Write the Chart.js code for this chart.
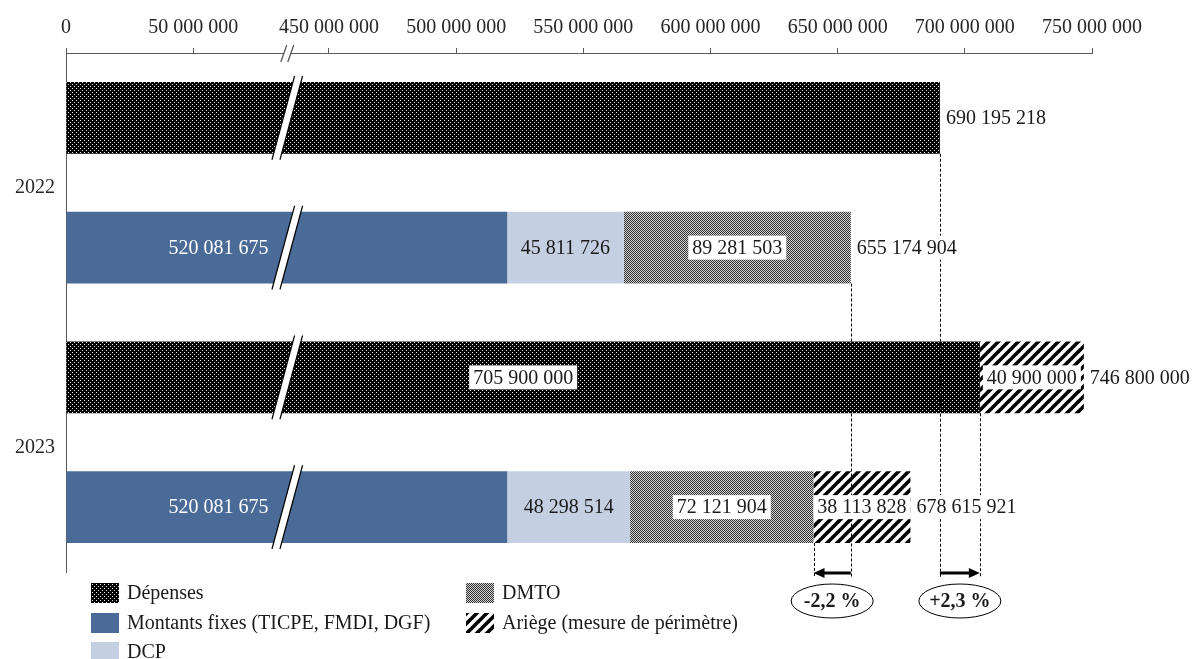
<!DOCTYPE html>
<html lang="fr">
<head>
<meta charset="UTF-8">
<title>Dépenses et recettes 2022-2023</title>
<script src="https://cdn.jsdelivr.net/npm/chart.js"></script>
<style>
  html, body { margin: 0; padding: 0; background: #fff; }
  #zone { width: 1193px; height: 659px; }
</style>
</head>
<body>
<div id="zone"><canvas id="graphique" width="1193" height="659"></canvas></div>
<script>
// Données (en euros)
const annees = ['2022', '2023'];
const depenses = [690195218, 705900000];
const arriegeDepenses = [null, 40900000];
const montantsFixes = [520081675, 520081675];
const dcp = [45811726, 48298514];
const dmto = [89281503, 72121904];
const arriegeRecettes = [null, 38113828];
const graduations = [0, 50000000, 450000000, 500000000, 550000000, 600000000, 650000000, 700000000, 750000000];

// Axe coupé entre 50 M et 450 M
const COUPURE_BAS = 50e6, COUPURE_HAUT = 450e6, ECART = 53.4e6;
const POSITION_COUPURE = 87e6;
function versAxe(v) {
    return v <= COUPURE_BAS ? v : v - COUPURE_HAUT + COUPURE_BAS + ECART;
}
function formatNombre(v) {
    return String(Math.round(v)).replace(/\B(?=(\d{3})+(?!\d))/g, ' ');
}
function formatPct(v) {
    return (v > 0 ? '+' : '') + v.toFixed(1).replace('.', ',') + ' %';
}

const police = '"Liberation Serif", "Times New Roman", serif';
const canvas = document.getElementById('graphique');
const ctx = canvas.getContext('2d');

// Motifs de remplissage
function motif(taille, dessin) {
    const c = document.createElement('canvas');
    c.width = taille; c.height = taille;
    dessin(c.getContext('2d'));
    return ctx.createPattern(c, 'repeat');
}
const motifPoints = motif(4, g => {
    g.fillStyle = '#000'; g.fillRect(0, 0, 4, 4);
    g.fillStyle = '#e6e6e6'; g.fillRect(0, 0, 1, 1); g.fillRect(2, 2, 1, 1);
});
const motifDmto = motif(2, g => {
    g.fillStyle = '#d6d6d6'; g.fillRect(0, 0, 2, 2);
    g.fillStyle = '#2e2e2e'; g.fillRect(0, 0, 1, 1); g.fillRect(1, 1, 1, 1);
});
const motifHachures = motif(10, g => {
    g.fillStyle = '#fff'; g.fillRect(0, 0, 10, 10);
    g.strokeStyle = '#000'; g.lineWidth = 3.6;
    [[-5, 5, 5, -5], [0, 10, 10, 0], [5, 15, 15, 5]].forEach(([a, b, c, d]) => {
        g.beginPath(); g.moveTo(a, b); g.lineTo(c, d); g.stroke();
    });
});
const bleu = '#4a6a98';
const bleuClair = '#c5cfe2';

function texte(c, t, x, y, opts) {
    c.font = (opts.gras ? 'bold ' : '') + '20px ' + police;
    c.textBaseline = 'middle';
    const w = c.measureText(t).width;
    let gauche = opts.align === 'left' ? x : x - w / 2;
    if (opts.fond) {
        c.fillStyle = '#fff';
        c.fillRect(gauche - 4, y - 12, w + 8, 24);
    }
    c.fillStyle = opts.couleur || '#1a1a1a';
    c.textAlign = 'left';
    c.fillText(t, gauche, y + 1);
}

const habillage = {
    id: 'habillage',
    afterDatasetsDraw(chart) {
        const c = chart.ctx;
        const sx = chart.scales.x;
        const el = (d, i) => chart.getDatasetMeta(d).data[i];
        c.save();

        // coupures sur chaque barre
        const xc = sx.getPixelForValue(POSITION_COUPURE);
        [0, 2].forEach(d => annees.forEach((a, i) => {
            const b = el(d, i);
            const h = b.height / 2 + 6;
            const p = 0.27;
            c.beginPath();
            c.moveTo(xc - 4 - p * h, b.y + h);
            c.lineTo(xc - 4 + p * h, b.y - h);
            c.lineTo(xc + 4 + p * h, b.y - h);
            c.lineTo(xc + 4 - p * h, b.y + h);
            c.closePath();
            c.fillStyle = '#fff'; c.fill();
            c.strokeStyle = '#000'; c.lineWidth = 1.2;
            [-4, 4].forEach(o => {
                c.beginPath();
                c.moveTo(xc + o - p * h, b.y + h);
                c.lineTo(xc + o + p * h, b.y - h);
                c.stroke();
            });
        }));

        // coupure de l'axe
        const ya = sx.bottom;
        c.fillStyle = '#fff';
        c.fillRect(xc - 3, ya - 2, 6, 4);
        c.strokeStyle = '#595959'; c.lineWidth = 1.3;
        [-3.5, 3.5].forEach(o => {
            c.beginPath();
            c.moveTo(xc + o - 3, ya + 9);
            c.lineTo(xc + o + 3, ya - 8);
            c.stroke();
        });

        // repères pointillés (hors Ariège)
        const yBas = 577;
        const reperes = [el(0, 0), el(4, 0), el(0, 1), el(4, 1)];
        c.setLineDash([3, 2]);
        c.strokeStyle = '#000'; c.lineWidth = 1;
        reperes.forEach(b => {
            const x = Math.round(b.x) + 0.5;
            c.beginPath();
            c.moveTo(x, b.y + b.height / 2);
            c.lineTo(x, yBas);
            c.stroke();
        });
        c.setLineDash([]);

        // étiquettes internes
        annees.forEach((a, i) => {
            const mf = el(2, i), dc = el(3, i), dm = el(4, i);
            texte(c, formatNombre(montantsFixes[i]), sx.getPixelForValue(60e6), mf.y, { couleur: '#fff' });
            texte(c, formatNombre(dcp[i]), (dc.base + dc.x) / 2, dc.y, {});
            texte(c, formatNombre(dmto[i]), (dm.base + dm.x) / 2, dm.y, { fond: true });
            if (arriegeDepenses[i] !== null) {
                const de = el(0, i), ad = el(1, i);
                texte(c, formatNombre(depenses[i]), (de.base + de.x) / 2, de.y, { fond: true });
                texte(c, formatNombre(arriegeDepenses[i]), (ad.base + ad.x) / 2, ad.y, { fond: true });
            }
            if (arriegeRecettes[i] !== null) {
                const ar = el(5, i);
                texte(c, formatNombre(arriegeRecettes[i]), (ar.base + ar.x) / 2, ar.y, { fond: true });
            }
        });

        // totaux
        annees.forEach((a, i) => {
            const totDep = depenses[i] + (arriegeDepenses[i] || 0);
            const totRec = montantsFixes[i] + dcp[i] + dmto[i] + (arriegeRecettes[i] || 0);
            const finDep = arriegeDepenses[i] !== null ? el(1, i) : el(0, i);
            const finRec = arriegeRecettes[i] !== null ? el(5, i) : el(4, i);
            texte(c, formatNombre(totDep), finDep.x + 6, finDep.y, { align: 'left', fond: true });
            texte(c, formatNombre(totRec), finRec.x + 6, finRec.y, { align: 'left', fond: true });
        });

        // flèches d'évolution
        const recHors = i => montantsFixes[i] + dcp[i] + dmto[i];
        const evolutions = [
            { de: el(4, 0).x, a: el(4, 1).x, pct: (recHors(1) / recHors(0) - 1) * 100 },
            { de: el(0, 0).x, a: el(0, 1).x, pct: (depenses[1] / depenses[0] - 1) * 100 }
        ];
        const yFl = 573;
        evolutions.forEach(e => {
            const sens = Math.sign(e.a - e.de);
            c.strokeStyle = '#000'; c.lineWidth = 3;
            c.beginPath();
            c.moveTo(e.de, yFl);
            c.lineTo(e.a - sens * 8, yFl);
            c.stroke();
            c.fillStyle = '#000';
            c.beginPath();
            c.moveTo(e.a, yFl);
            c.lineTo(e.a - sens * 11, yFl - 5);
            c.lineTo(e.a - sens * 11, yFl + 5);
            c.closePath();
            c.fill();
            const mx = (e.de + e.a) / 2;
            c.lineWidth = 1;
            c.beginPath();
            c.ellipse(mx, 601, 41, 17, 0, 0, Math.PI * 2);
            c.stroke();
            texte(c, formatPct(e.pct), mx, 601, { gras: true });
        });
        c.restore();
    },
    afterDraw(chart) {
        const c = chart.ctx;
        c.save();
        const items = [
            { nom: 'Dépenses', fond: motifPoints, x: 91, y: 593 },
            { nom: 'Montants fixes (TICPE, FMDI, DGF)', fond: bleu, x: 91, y: 623 },
            { nom: 'DCP', fond: bleuClair, x: 91, y: 652 },
            { nom: 'DMTO', fond: motifDmto, x: 466, y: 593 },
            { nom: 'Ariège (mesure de périmètre)', fond: motifHachures, x: 466, y: 623 }
        ];
        items.forEach(it => {
            c.fillStyle = it.fond;
            c.fillRect(it.x, it.y - 10, 28, 20);
            texte(c, it.nom, it.x + 36, it.y, { align: 'left' });
        });
        c.restore();
    }
};

new Chart(canvas, {
    type: 'bar',
    data: {
        labels: annees,
        datasets: [
            { label: 'Dépenses', stack: 'dep', data: depenses.map(versAxe), backgroundColor: motifPoints },
            { label: 'Ariège (mesure de périmètre)', stack: 'dep', data: arriegeDepenses, backgroundColor: motifHachures },
            { label: 'Montants fixes (TICPE, FMDI, DGF)', stack: 'rec', data: montantsFixes.map(versAxe), backgroundColor: bleu },
            { label: 'DCP', stack: 'rec', data: dcp, backgroundColor: bleuClair },
            { label: 'DMTO', stack: 'rec', data: dmto, backgroundColor: motifDmto },
            { label: 'Ariège (mesure de périmètre)', stack: 'rec', data: arriegeRecettes, backgroundColor: motifHachures }
        ]
    },
    options: {
        indexAxis: 'y',
        responsive: false,
        animation: false,
        devicePixelRatio: 1,
        layout: { padding: { left: 0, right: 101, top: 0, bottom: 87 } },
        datasets: { bar: { categoryPercentage: 1, barPercentage: 0.553, borderWidth: 0 } },
        plugins: { legend: { display: false }, tooltip: { enabled: false } },
        scales: {
            x: {
                type: 'linear',
                position: 'top',
                stacked: true,
                min: 0,
                max: versAxe(750e6),
                afterBuildTicks: s => { s.ticks = graduations.map(v => ({ value: versAxe(v) })); },
                afterFit: s => { s.height = 53; },
                grid: { drawOnChartArea: false, tickLength: 5, color: '#595959' },
                border: { color: '#595959' },
                ticks: {
                    autoSkip: false, maxRotation: 0, minRotation: 0, padding: 8,
                    color: '#262626',
                    font: { family: police, size: 20 },
                    callback: (v, i) => formatNombre(graduations[i])
                }
            },
            y: {
                stacked: true,
                afterFit: s => { s.width = 66; },
                grid: { display: false, drawTicks: false },
                border: { display: true, color: '#595959' },
                ticks: { padding: 11, labelOffset: 5, color: '#262626', font: { family: police, size: 20 } }
            }
        }
    },
    plugins: [habillage]
});
</script>
</body>
</html>
